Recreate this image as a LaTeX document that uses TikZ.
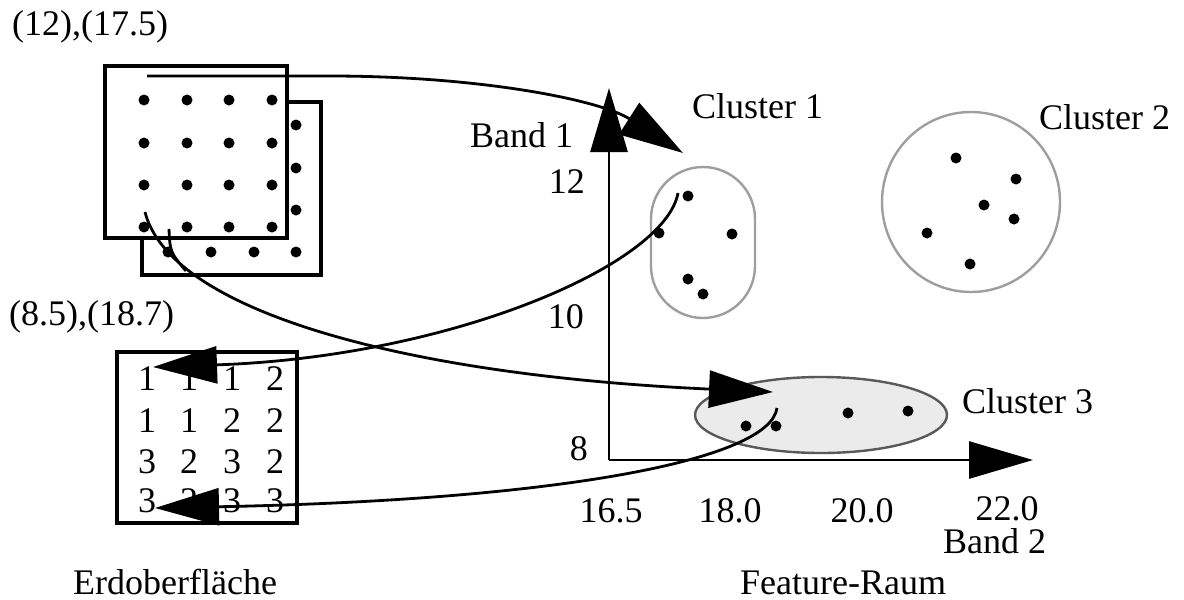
\documentclass[tikz,border=0pt]{standalone}
\usepackage{fontspec}
\setmainfont{Liberation Serif}
\usetikzlibrary{arrows.meta}
\begin{document}
\begin{tikzpicture}[x=1pt,y=-1pt,
  lbl/.style={font=\fontsize{36}{40}\selectfont, inner sep=0pt},
  flat/.style={text depth=0pt},
  frame/.style={draw=black, line width=3.2pt},
  pt/.style={fill=black},
  conn/.style={line width=2.8pt, -{Triangle[length=64pt,width=37pt]}},
  axis/.style={line width=2.8pt, -{Triangle[length=64pt,width=37pt]}},
  clusterA/.style={draw=black!38, line width=2.4pt},
  clusterB/.style={draw=black!65, fill=black!8, line width=2.4pt}]
\useasboundingbox (0,0) rectangle (1184,600);
\def\dr{5.5pt}
% ---- image stack (Erdoberflaeche input)
\draw[frame] (142,102) rectangle (321,275);
\foreach \x in {211,254,296} \fill[pt] (\x,252) circle[radius=\dr];
\fill[pt] (168,252) circle[radius=\dr];
\foreach \y in {125,168,210} \fill[pt] (296,\y) circle[radius=\dr];
\draw[frame, fill=white] (105,66) rectangle (287,238);
\foreach \x in {144,187,229,272}
  \foreach \y in {100,143,185,227}
    \fill[pt] (\x,\y) circle[radius=\dr];
% ---- class map
\draw[frame] (117,352) rectangle (297,523);
\node[lbl,anchor=base] (g11) at (147,390) {1};
\node[lbl,anchor=base] (g12) at (189,390) {1};
\node[lbl,anchor=base] (g13) at (232,390) {1};
\node[lbl,anchor=base] (g14) at (275,390) {2};
\node[lbl,anchor=base] (g21) at (147,432) {1};
\node[lbl,anchor=base] (g22) at (189,432) {1};
\node[lbl,anchor=base] (g23) at (232,432) {2};
\node[lbl,anchor=base] (g24) at (275,432) {2};
\node[lbl,anchor=base] (g31) at (147,473) {3};
\node[lbl,anchor=base] (g32) at (189,473) {2};
\node[lbl,anchor=base] (g33) at (232,473) {3};
\node[lbl,anchor=base] (g34) at (275,473) {2};
\node[lbl,anchor=base] (g41) at (147,512) {3};
\node[lbl,anchor=base] (g42) at (189,512) {2};
\node[lbl,anchor=base] (g43) at (232,512) {3};
\node[lbl,anchor=base] (g44) at (275,512) {3};
% ---- labels left
\node[lbl,anchor=base west] (lab1) at (12,35) {(12),(17.5)};
\node[lbl,anchor=base west] (lab2) at (9,325) {(8.5),(18.7)};
\node[lbl,flat,anchor=base west] (erd) at (73,594) {Erdoberfläche};
% ---- clusters
\draw[clusterA, rounded corners=52pt] (651,167) rectangle (755,318);
\draw[clusterA] (971,202) ellipse (89 and 90);
\draw[clusterB] (821,415) ellipse (126 and 38);
\foreach \p in {(688,196),(732,234),(659,233),(688,279),(703,294)} \fill[pt] \p circle[radius=\dr];
\foreach \p in {(956,158),(1016,179),(984,205),(1014,219),(927,233),(970,264)} \fill[pt] \p circle[radius=\dr];
\foreach \p in {(746,426),(776,426),(848,413),(908,411)} \fill[pt] \p circle[radius=\dr];
\node[lbl,anchor=base west] (c1) at (692,118) {Cluster 1};
\node[lbl,anchor=base west] (c2) at (1039,129) {Cluster 2};
\node[lbl,anchor=base west] (c3) at (962,413) {Cluster 3};
% ---- axes
\coordinate (o) at (609,460);
\coordinate (ytip) at (609,88);
\coordinate (xtip) at (1033,460);
\draw[axis] (o) -- (ytip);
\draw[axis] (o) -- (xtip);
\node[lbl,anchor=base west] (b1) at (470,147) {Band 1};
\node[lbl,anchor=base east] (y12) at (585,193) {12};
\node[lbl,anchor=base east] (y10) at (584,328) {10};
\node[lbl,anchor=base east] (y8) at (588,460) {8};
\node[lbl,anchor=base] (x165) at (611,522) {16.5};
\node[lbl,anchor=base] (x18) at (730,522) {18.0};
\node[lbl,anchor=base] (x20) at (862,522) {20.0};
\node[lbl,flat,anchor=base] (x22) at (1007,520) {22.0};
\node[lbl,flat,anchor=base west] (b2) at (943,553) {Band 2};
\node[lbl,flat,anchor=base west] (fr) at (740,594) {Feature-Raum};
% ---- connectors
\coordinate (s1) at (147,76);
\coordinate (s1b) at (330,76);
\coordinate (e1) at (683,153);
\draw[conn] (s1) -- (s1b) .. controls (480,76) and (600,100) .. (e1);
\coordinate (s2) at (678,193);
\coordinate (e2) at (153,367);
\draw[conn] (s2) .. controls (665,265) and (450,357) .. (e2);
\coordinate (s3) at (145,212);
\coordinate (e3) at (773,392);
\draw[conn] (s3) .. controls (170,310) and (400,375) .. (e3);
\coordinate (s4) at (169,229);
\coordinate (m4) at (186,271);
\draw[line width=2.8pt] (s4) .. controls (170,252) .. (m4);
\coordinate (s5) at (777,408);
\coordinate (e5) at (155,508);
\draw[conn] (s5) .. controls (770,460) and (560,500) .. (e5);
\end{tikzpicture}
\end{document}
